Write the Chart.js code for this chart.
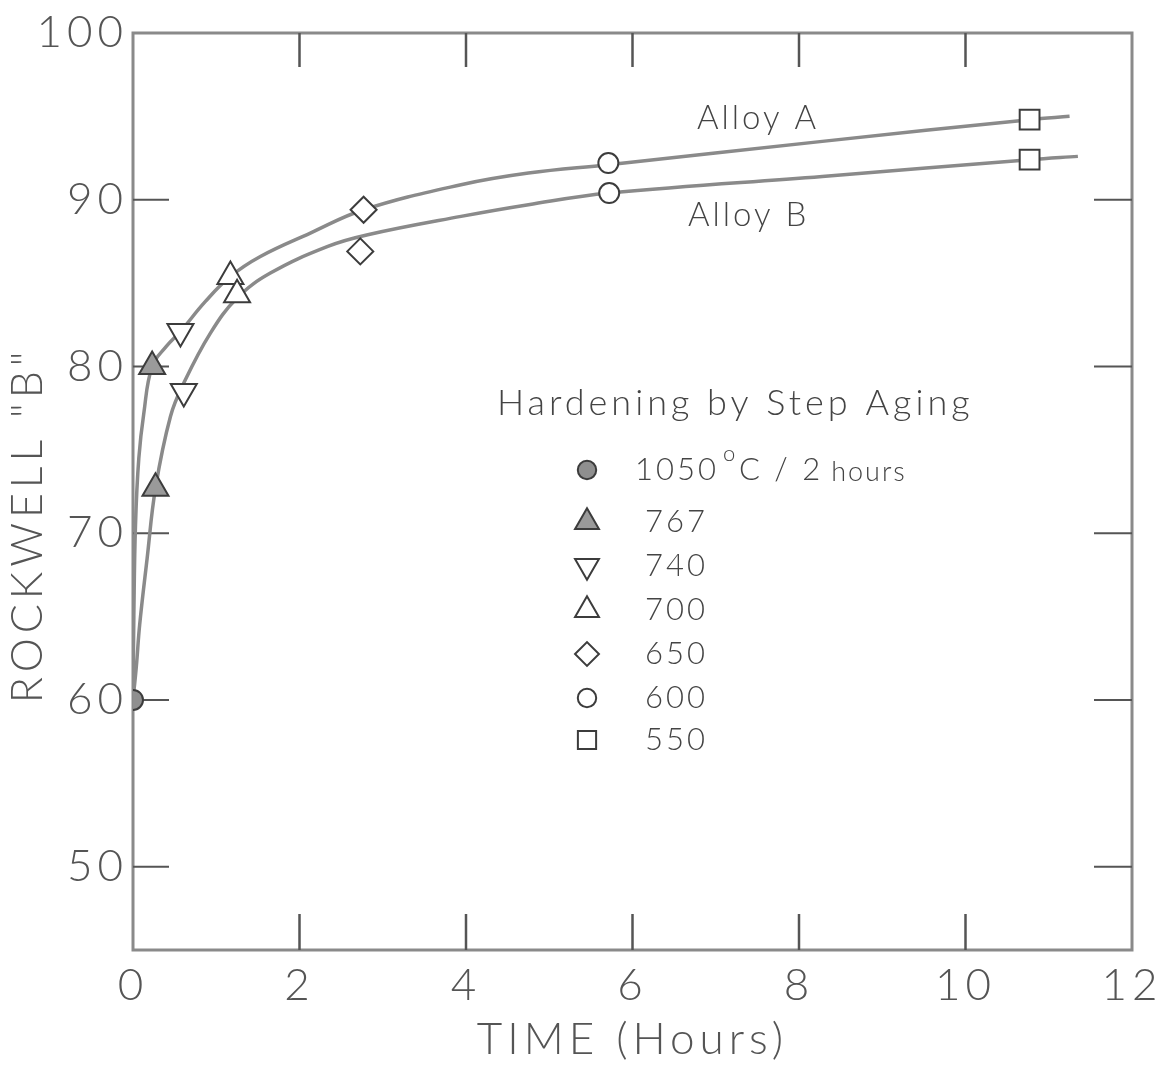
<!DOCTYPE html>
<html>
<head>
<meta charset="utf-8">
<script src="https://cdn.jsdelivr.net/npm/chart.js@4/dist/chart.umd.min.js"></script>
<style>
  html, body { margin: 0; padding: 0; background: #fff; }
  #wrap { width: 1160px; height: 1067px; }
</style>
</head>
<body>
<div id="wrap"><canvas id="dureza"></canvas></div>
<script>
// temperaturas de cada etapa (legenda)
const temperaturas = ['1050', '767', '740', '700', '650', '600', '550'];
// pontos medidos: horas x Rockwell B
const tempoA = [0, 0.23, 0.57, 1.17, 2.77, 5.71, 10.77];
const durezaA = [60, 80.0, 82.1, 85.4, 89.4, 92.2, 94.8];
const tempoB = [0, 0.27, 0.61, 1.25, 2.73, 5.72, 10.77];
const durezaB = [60, 72.7, 78.5, 84.3, 86.9, 90.4, 92.4];
// curvas ajustadas
const curvaTempoA = [0, 0.01, 0.03, 0.07, 0.13, 0.23, 0.40, 0.57, 0.87, 1.17, 1.53, 2.13, 2.77, 3.94, 4.75, 5.71, 8.28, 10.77, 11.25];
const curvaA = [60, 65, 70.5, 74.5, 77.2, 80.0, 81.2, 82.1, 83.9, 85.4, 86.6, 88.0, 89.4, 90.9, 91.6, 92.1, 93.5, 94.8, 95.0];
const curvaTempoB = [0, 0.04, 0.08, 0.17, 0.27, 0.45, 0.61, 0.93, 1.25, 1.65, 2.34, 2.82, 3.94, 4.75, 5.72, 8.28, 10.77, 11.35];
const curvaB = [60, 62.0, 64.5, 68.5, 72.7, 77.0, 79.0, 82.0, 84.1, 85.6, 87.2, 87.9, 89.0, 89.7, 90.4, 91.4, 92.4, 92.6];
const ticksX = [0, 2, 4, 6, 8, 10, 12];
const ticksY = [50, 60, 70, 80, 90, 100];

const FONTE = 'Lato, "DejaVu Sans", sans-serif';
const CINZA = '#8a8a8a';
const TRACO = '#3c3c3c';

// estilo do marcador de cada temperatura
const marcadores = [
    { pointStyle: 'circle', rotation: 0, radius: 10, fill: '#8f8f8f' },
    { pointStyle: 'triangle', rotation: 0, radius: 15, fill: '#9a9a9a' },
    { pointStyle: 'triangle', rotation: 180, radius: 15, fill: '#fff' },
    { pointStyle: 'triangle', rotation: 0, radius: 15, fill: '#fff' },
    { pointStyle: 'rectRot', rotation: 0, radius: 13, fill: '#fff' },
    { pointStyle: 'circle', rotation: 0, radius: 10, fill: '#fff' },
    { pointStyle: 'rect', rotation: 0, radius: 14, fill: '#fff' }
];

const pares = (xs, ys) => xs.map((x, i) => ({ x: x, y: ys[i] }));

const datasets = [];
temperaturas.forEach((t, i) => {
    const m = marcadores[i];
    const pts = i === 0 ? [{ x: tempoA[0], y: durezaA[0] }]
        : [{ x: tempoA[i], y: durezaA[i] }, { x: tempoB[i], y: durezaB[i] }];
    datasets.push({
        label: t,
        data: pts,
        showLine: false,
        pointStyle: m.pointStyle,
        rotation: m.rotation,
        pointRadius: m.radius,
        pointBackgroundColor: m.fill,
        pointBorderColor: TRACO,
        pointBorderWidth: 2,
        order: 1
    });
});
[['Alloy A', curvaTempoA, curvaA], ['Alloy B', curvaTempoB, curvaB]].forEach(([nome, xs, ys]) => {
    datasets.push({
        label: nome,
        data: pares(xs, ys),
        showLine: true,
        borderColor: CINZA,
        borderWidth: 3.5,
        pointRadius: 0,
        tension: 0.4,
        order: 2
    });
});

// espacamento das letras (o texto original e bem largo)
const espacamento = {
    id: 'espacamento',
    beforeUpdate(chart) { chart.ctx.letterSpacing = '5px'; },
    beforeDraw(chart) { chart.ctx.letterSpacing = '5px'; }
};

// moldura e marcas de escala para dentro
const moldura = {
    id: 'moldura',
    beforeDatasetsDraw(chart) {
        const { ctx, chartArea: a, scales: { x, y } } = chart;
        const linha = (x1, y1, x2, y2) => { ctx.beginPath(); ctx.moveTo(x1, y1); ctx.lineTo(x2, y2); ctx.stroke(); };
        ctx.save();
        ctx.strokeStyle = CINZA;
        ctx.lineWidth = 3;
        ctx.strokeRect(a.left, a.top, a.right - a.left, a.bottom - a.top);
        ctx.strokeStyle = '#555';
        ctx.lineWidth = 2.5;
        ticksX.slice(1, -1).forEach(v => {
            const px = x.getPixelForValue(v);
            linha(px, a.bottom, px, a.bottom - 36);
            linha(px, a.top, px, a.top + 34);
        });
        ctx.lineWidth = 2;
        ticksY.slice(0, -1).forEach(v => {
            const py = y.getPixelForValue(v);
            linha(a.left, py, a.left + 36, py);
            linha(a.right, py, a.right - 38, py);
        });
        ctx.restore();
    }
};

// legenda e rotulos das curvas
const legenda = {
    id: 'legenda',
    afterDraw(chart) {
        const ctx = chart.ctx;
        ctx.save();
        ctx.fillStyle = '#444';
        ctx.textBaseline = 'middle';
        ctx.textAlign = 'left';
        ctx.font = '300 36px ' + FONTE;
        ctx.letterSpacing = '4px';
        ctx.fillText('Hardening by Step Aging', 497, 403);
        ctx.font = '300 33px ' + FONTE;
        ctx.letterSpacing = '3px';
        ctx.fillText('Alloy A', 697, 118);
        ctx.fillText('Alloy B', 688, 215);

        const linhas = [470, 522, 566, 610, 654, 698, 740];
        temperaturas.forEach((t, i) => {
            const m = marcadores[i];
            const yy = linhas[i];
            ctx.fillStyle = m.fill;
            ctx.strokeStyle = TRACO;
            ctx.lineWidth = 2;
            Chart.helpers.drawPoint(ctx, {
                pointStyle: m.pointStyle,
                rotation: m.rotation,
                radius: m.radius * 0.92,
                borderWidth: 2
            }, 587, yy);
            ctx.fillStyle = '#444';
            ctx.letterSpacing = '3px';
            if (i === 0) {
                ctx.font = '300 31px ' + FONTE;
                ctx.fillText(t, 635, yy);
                let px = 635 + ctx.measureText(t).width + 4;
                ctx.font = '300 22px ' + FONTE;
                ctx.fillText('o', px, yy - 16);
                px += 16;
                ctx.font = '300 31px ' + FONTE;
                ctx.fillText('C / 2', px, yy);
                px += ctx.measureText('C / 2').width + 8;
                ctx.font = '300 27px ' + FONTE;
                ctx.letterSpacing = '2px';
                ctx.fillText('hours', px, yy + 2);
            } else {
                ctx.font = '300 31px ' + FONTE;
                ctx.fillText(t, 645, yy);
            }
        });
        ctx.restore();
    }
};

new Chart(document.getElementById('dureza').getContext('2d'), {
    type: 'scatter',
    data: { datasets: datasets },
    options: {
        responsive: true,
        maintainAspectRatio: false,
        animation: false,
        layout: { padding: { left: 0, top: 33, right: 28, bottom: 0 } },
        plugins: {
            legend: { display: false },
            tooltip: { enabled: false }
        },
        scales: {
            x: {
                type: 'linear',
                min: 0,
                max: 12,
                afterBuildTicks: s => { s.ticks = ticksX.map(v => ({ value: v })); },
                afterFit: s => { s.height = 117; s.paddingRight = 0; s.paddingLeft = 0; },
                grid: { display: false, drawTicks: false },
                border: { display: false },
                ticks: { color: '#555', padding: 9, font: { family: FONTE, size: 44, weight: '300' } },
                title: {
                    display: true,
                    text: 'TIME (Hours)',
                    color: '#555',
                    padding: { top: 0, bottom: 1 },
                    font: { family: FONTE, size: 44, weight: '300' }
                }
            },
            y: {
                type: 'linear',
                min: 45,
                max: 100,
                afterBuildTicks: s => { s.ticks = ticksY.map(v => ({ value: v })); },
                afterFit: s => { s.width = 133; },
                grid: { display: false, drawTicks: false },
                border: { display: false },
                ticks: { color: '#555', padding: 5, font: { family: FONTE, size: 44, weight: '300' } },
                title: {
                    display: true,
                    // espacos no fim baixam o texto, como no original
                    text: 'ROCKWELL "B"    ',
                    color: '#555',
                    padding: { top: 2, bottom: 0 },
                    font: { family: FONTE, size: 43, weight: '300' }
                }
            }
        }
    },
    plugins: [espacamento, moldura, legenda]
});
</script>
</body>
</html>
